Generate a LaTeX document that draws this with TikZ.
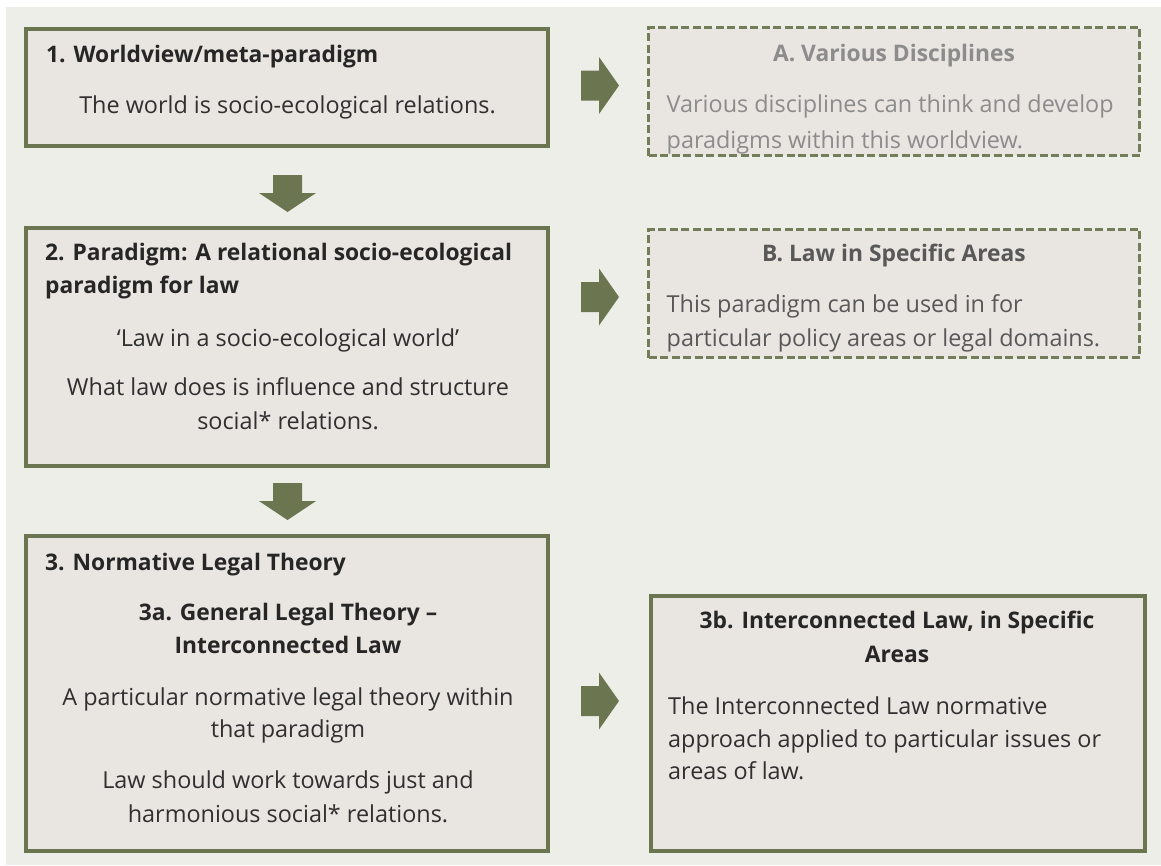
\documentclass[tikz,border=0pt]{standalone}
\usepackage{fontspec}
\setmainfont{Open Sans}
\definecolor{panelbg}{HTML}{EEEEE9}
\definecolor{boxfill}{HTML}{E9E5E1}
\definecolor{olive}{HTML}{6B7650}
\definecolor{dashol}{HTML}{737D5A}
\definecolor{inkdark}{HTML}{262626}
\definecolor{inkbody}{HTML}{303030}
\definecolor{inkpale}{HTML}{8C8C8C}
\definecolor{inkmid}{HTML}{585858}
\newcommand\ttlsize{\fontsize{22.8}{27}\selectfont}
\newcommand\bdysize{\fontsize{23.4}{28}\selectfont}
% block arrows: centre x and top y / left x and centre y
\newcommand\blockdown[2]{\fill[olive] (#1-14.5,#2) -- (#1+14.5,#2) -- (#1+14.5,#2+18) -- (#1+28.5,#2+18) -- (#1,#2+37) -- (#1-28.5,#2+18) -- (#1-14.5,#2+18) -- cycle;}
\newcommand\blockright[2]{\fill[olive] (#1,#2-15) -- (#1+18,#2-15) -- (#1+18,#2-28.5) -- (#1+38,#2) -- (#1+18,#2+28.5) -- (#1+18,#2+15) -- (#1,#2+15) -- cycle;}
\tikzset{
  solidbox/.style={draw=olive, line width=3.6pt, fill=boxfill, inner sep=0pt, outer sep=0pt},
  dashbox/.style={draw=dashol, line width=3pt, fill=boxfill, dash pattern=on 8pt off 3.5pt, inner sep=0pt, outer sep=0pt},
  ttl/.style={font=\ttlsize\bfseries, text=inkdark, inner sep=0pt},
  bdy/.style={font=\bdysize, text=inkbody, inner sep=0pt},
}
\begin{document}
\begin{tikzpicture}[x=1pt,y=-1pt]
\useasboundingbox (0,0) rectangle (1161,865);
\fill[white] (0,0) rectangle (1161,865);
\fill[panelbg] (6,7) rectangle (1161,865);

% left column
\node[solidbox, minimum width=522pt, minimum height=117pt] (b1) at (287,87.5) {};
\node[solidbox, minimum width=522pt, minimum height=238pt] (b2) at (287,347) {};
\node[solidbox, minimum width=522pt, minimum height=315pt] (b3) at (287,693.5) {};
% right column
\node[dashbox, minimum width=491pt, minimum height=128pt] (bA) at (894,91.5) {};
\node[dashbox, minimum width=491pt, minimum height=128pt] (bB) at (894,293.5) {};
\node[solidbox, minimum width=494pt, minimum height=255pt] (b3b) at (898,723.5) {};

% arrows
\blockdown{287.5}{175}
\blockdown{287.5}{483}
\blockright{581}{85.5}
\blockright{581}{297}
\blockright{581}{701}

% box 1
\node[ttl, anchor=base west] (t1) at (46,62) {1. Worldview/meta-paradigm};
\node[bdy, anchor=base] (t1a) at (287.5,113) {The world is socio-ecological relations.};

% box 2
\node[ttl, anchor=base west] (t2) at (45,260) {2. Paradigm: A relational socio-ecological};
\node[ttl, anchor=base west] (t2b) at (45,293) {paradigm for law};
\node[bdy, anchor=base] (t2c) at (288,346) {‘Law in a socio-ecological world’};
\node[bdy, anchor=base] (t2d) at (288,395) {What law does is influence and structure};
\node[bdy, anchor=base] (t2e) at (288,429) {social* relations.};

% box 3
\node[ttl, anchor=base west] (t3) at (45,570) {3. Normative Legal Theory};
\node[ttl, anchor=base] (t3a) at (288,620) {3a. General Legal Theory –};
\node[ttl, anchor=base] (t3b) at (288,653) {Interconnected Law};
\node[bdy, anchor=base] (t3c) at (288,705) {A particular normative legal theory within};
\node[bdy, anchor=base] (t3d) at (288,737) {that paradigm};
\node[bdy, anchor=base] (t3e) at (288,788) {Law should work towards just and};
\node[bdy, anchor=base] (t3f) at (288,822) {harmonious social* relations.};

% box A (text runs under the lower edge)
\begin{scope}
\clip (650,29) rectangle (1138,153.5);
\node[ttl, text=inkpale, anchor=base] (tA) at (894,61) {A. Various Disciplines};
\node[bdy, text=inkpale, anchor=base west] (tA1) at (666.5,112) {Various disciplines can think and develop};
\node[bdy, text=inkpale, anchor=base west] (tA2) at (666.5,148) {paradigms within this worldview.};
\end{scope}

% box B
\node[ttl, text=inkmid, anchor=base] (tB) at (894,261) {B. Law in Specific Areas};
\node[bdy, text=inkmid, anchor=base west] (tB1) at (666.5,312) {This paradigm can be used in for};
\node[bdy, text=inkmid, anchor=base west] (tB2) at (666.5,346) {particular policy areas or legal domains.};

% box 3b
\node[ttl, anchor=base] (t3g) at (897,628) {3b. Interconnected Law, in Specific};
\node[ttl, anchor=base] (t3h) at (897,662) {Areas};
\node[bdy, anchor=base west] (t3i) at (668,714) {The Interconnected Law normative};
\node[bdy, anchor=base west] (t3j) at (668,747) {approach applied to particular issues or};
\node[bdy, anchor=base west] (t3k) at (668,779) {areas of law.};
\end{tikzpicture}
\end{document}
